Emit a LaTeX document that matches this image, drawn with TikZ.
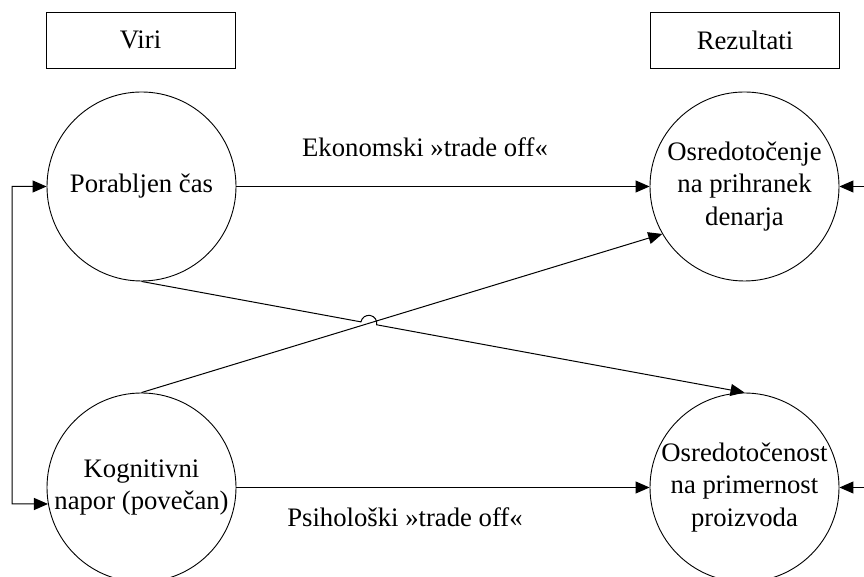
\documentclass[tikz,border=0pt]{standalone}
\usepackage{fontspec}
\setmainfont{Liberation Serif}
\usetikzlibrary{arrows.meta,calc,intersections}
\begin{document}
\begin{tikzpicture}[x=1pt,y=1pt,
  every node/.style={font=\fontsize{26.7}{32.5}\selectfont},
  box/.style={draw, line width=0.9pt, minimum width=189pt, minimum height=56pt, inner sep=0pt},
  circ/.style={draw, circle, line width=0.9pt, minimum size=189pt, inner sep=0pt, align=center},
  tip/.style={Triangle[length=14pt,width=12pt]},
  arr/.style={line width=1pt, -{Triangle[length=14pt,width=12pt]}},
  ln/.style={line width=1pt}]
\useasboundingbox (0,0) rectangle (864,577);
\node[box] (viri) at (140.5,537) {Viri};
\node[box] (rez) at (745,537) {Rezultati};
\node[circ] (A) at (141.5,390.5) {Porabljen čas};
\node[circ] (B) at (141.5,89.5) {Kognitivni\\napor (povečan)};
\node[circ] (C) at (744.5,390.5) {Osredotočenje\\na prihranek\\denarja};
\node[circ] (D) at (744.5,89.5) {Osredotočenost\\na primernost\\proizvoda};
\node[anchor=base] (lab1) at (425,420) {Ekonomski »trade off«};
\node[anchor=base] (lab2) at (405,50) {Psihološki »trade off«};
% horizontal connectors
\draw[arr] (A.east) -- (C.west);
\draw[arr] (B.east) -- (D.west);
% left bracket
\coordinate (L1) at (12,390.5);
\coordinate (L2) at (12,73);
\draw[ln, {Triangle[length=14pt,width=12pt]}-{Triangle[length=14pt,width=12pt]}] (A.west) -- (L1) -- (L2) -- (B.190);
% right incoming arrows
\coordinate (R1) at (870,390.5);
\coordinate (R2) at (870,89.5);
\draw[arr] (R1) -- (C.east);
\draw[arr] (R2) -- (D.east);
% crossing lines with hop
\path[name path=l1] (A.south) -- (D.north);
\path[name path=l2] (B.north) -- (C.210);
\path[name intersections={of=l1 and l2, by=X}];
\coordinate (H1) at ($(X)!8pt!(A.south)$);
\draw[arr] (B.north) -- (C.210);
\draw[arr] (A.south) -- (H1) arc[start angle=169.5, end angle=-10.5, radius=8] -- (D.north);
\end{tikzpicture}
\end{document}
